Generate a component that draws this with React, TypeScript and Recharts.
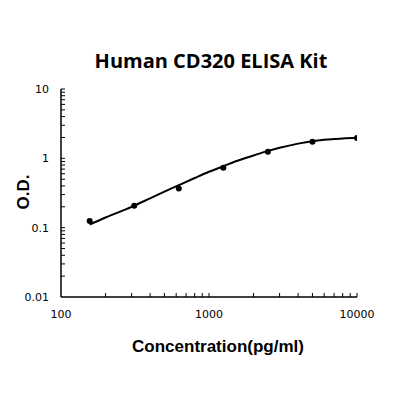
import React from "react";
import { ComposedChart, XAxis, YAxis, Line, Scatter } from "recharts";

const pointX = [156.25, 312.5, 625, 1250, 2500, 5000, 10000];
const pointY = [0.125, 0.207, 0.368, 0.733, 1.24, 1.74, 1.97];

const curveX = [156.25, 200, 300, 400, 500, 625, 800, 1000, 1250, 1500, 2000, 2500, 3000, 4000, 5000, 6000, 7000, 8000, 10000];
const curveY = [0.111, 0.14, 0.2, 0.265, 0.33, 0.41, 0.52, 0.64, 0.77, 0.9, 1.1, 1.28, 1.42, 1.63, 1.77, 1.85, 1.9, 1.94, 1.98];

const xMajorTicks = [100, 1000, 10000];
const xMinorTicks = [200, 300, 400, 500, 600, 700, 800, 900, 1000, 2000, 3000, 4000, 5000, 6000, 7000, 8000, 9000, 10000];
const yMajorTicks = [0.01, 0.1, 1, 10];
const yMinorTicks = [0.02, 0.03, 0.04, 0.05, 0.06, 0.07, 0.08, 0.09, 0.1, 0.2, 0.3, 0.4, 0.5, 0.6, 0.7, 0.8, 0.9, 1, 2, 3, 4, 5, 6, 7, 8, 9, 10];

const title = "Human CD320 ELISA Kit";
const xTitle = "Concentration(pg/ml)";
const yTitle = "O.D.";

const points = pointX.map((x, i) => ({ x, y: pointY[i] }));
const curve = curveX.map((x, i) => ({ x, y: curveY[i] }));

const tickFont = { fontSize: 11, fill: "#000", fontFamily: "DejaVu Sans" };
const EmptyTick = () => <g />;

export default function App() {
  return (
    <div style={{ position: "relative", width: 400, height: 400, fontFamily: "Liberation Sans, Arial, sans-serif" }}>
      <ComposedChart width={400} height={400} margin={{ top: 81, left: 52, right: 51, bottom: 110 }}>
        <XAxis
          xAxisId="main"
          dataKey="x"
          type="number"
          scale="log"
          domain={[100, 10000]}
          allowDataOverflow
          ticks={xMajorTicks}
          height={1}
          tickSize={0}
          tickMargin={13}
          tickLine={false}
          axisLine={{ stroke: "#000", strokeWidth: 1.5 }}
          tick={tickFont}
          tickFormatter={(v: number) => String(v)}
        />
        <XAxis
          xAxisId="minor"
          dataKey="x"
          type="number"
          scale="log"
          domain={[100, 10000]}
          allowDataOverflow
          ticks={xMinorTicks}
          interval={0}
          mirror
          height={1}
          tick={EmptyTick}
          tickSize={4}
          axisLine={false}
          tickLine={{ stroke: "#000", strokeWidth: 1 }}
        />
        <YAxis
          yAxisId="main"
          type="number"
          scale="log"
          domain={[0.01, 10]}
          allowDataOverflow
          ticks={yMajorTicks}
          width={1}
          tickSize={0}
          tickMargin={12}
          tickLine={false}
          axisLine={{ stroke: "#000", strokeWidth: 1.5 }}
          tick={tickFont}
          tickFormatter={(v: number) => String(v)}
        />
        <YAxis
          yAxisId="minor"
          type="number"
          scale="log"
          domain={[0.01, 10]}
          allowDataOverflow
          ticks={yMinorTicks}
          interval={0}
          mirror
          width={1}
          tick={EmptyTick}
          tickSize={4}
          axisLine={false}
          tickLine={{ stroke: "#000", strokeWidth: 1 }}
        />
        <Line
          xAxisId="main"
          yAxisId="main"
          data={curve}
          dataKey="y"
          type="monotone"
          stroke="#000"
          strokeWidth={2}
          dot={false}
          isAnimationActive={false}
        />
        <Scatter
          xAxisId="main"
          yAxisId="main"
          data={points}
          dataKey="y"
          fill="#000"
          shape={(p: any) => <circle cx={p.cx} cy={p.cy} r={3} fill="#000" />}
          isAnimationActive={false}
        />
      </ComposedChart>
      <div style={{ position: "absolute", left: 0, width: 406, top: 40, textAlign: "center", fontFamily: "Open Sans", fontWeight: 700, fontSize: 20, lineHeight: "26px" }}>
        {title}
      </div>
      <div style={{ position: "absolute", left: 0, width: 420, top: 329, textAlign: "center", fontFamily: "Liberation Sans", fontWeight: 700, fontSize: 17, lineHeight: "20px" }}>
        {xTitle}
      </div>
      <div style={{ position: "absolute", left: 16 - 50, top: 184 - 10, width: 100, textAlign: "center", transform: "rotate(-90deg)", fontFamily: "Liberation Sans", fontWeight: 700, fontSize: 17, lineHeight: "20px" }}>
        {yTitle}
      </div>
    </div>
  );
}
